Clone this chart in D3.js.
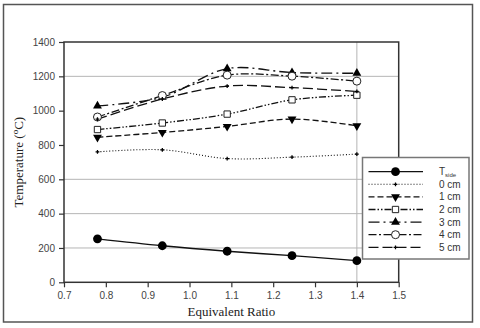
<!DOCTYPE html>
<html>
<head>
<meta charset="utf-8">
<script src="https://cdn.jsdelivr.net/npm/d3@7"></script>
<style>
  body { margin: 0; background: #fff; }
  svg { display: block; }
</style>
</head>
<body>
<svg id="chart"></svg>
<script>
const width = 480;
const height = 328;

// data
const ratios = [0.78, 0.935, 1.09, 1.245, 1.40];
const tSide = [253, 213, 181, 155, 126];
const cm0 = [760, 772, 721, 729, 747];
const cm1 = [845, 873, 908, 951, 912];
const cm2 = [890, 928, 980, 1063, 1090];
const cm3 = [1028, 1078, 1245, 1222, 1218];
const cm4 = [963, 1088, 1207, 1201, 1172];
const cm5 = [950, 1068, 1143, 1134, 1112];

const yTicks = [0, 200, 400, 600, 800, 1000, 1200, 1400];
const xTicks = [0.7, 0.8, 0.9, 1.0, 1.1, 1.2, 1.3, 1.4, 1.5];
const yGrid = [200, 400, 600, 1200];
const xGrid = [1.4];

const series = [
  { name: "T", sub: "side", values: tSide, dash: null, marker: "dot" },
  { name: "0 cm", values: cm0, dash: "1,2", marker: "plus" },
  { name: "1 cm", values: cm1, dash: "6,3", marker: "down" },
  { name: "2 cm", values: cm2, dash: "7,2,1.5,2,1.5,2", marker: "square" },
  { name: "3 cm", values: cm3, dash: "11,4,2,4", marker: "up" },
  { name: "4 cm", values: cm4, dash: "8,2.5,2,2.5", marker: "circle" },
  { name: "5 cm", values: cm5, dash: "10,4", marker: "plus" }
];

const svg = d3.select("#chart")
  .attr("width", width)
  .attr("height", height)
  .attr("viewBox", [0, 0, width, height]);

// outer frame
svg.append("rect")
  .attr("x", 3.5).attr("y", 4.5)
  .attr("width", 469).attr("height", 317.5)
  .attr("fill", "#fff")
  .attr("stroke", "#555")
  .attr("stroke-width", 1.5);

const plotL = 64, plotR = 398.7, plotT = 42, plotB = 282.3;

const x = d3.scaleLinear().domain([0.7, 1.5]).range([plotL, plotR]);
const y = d3.scaleLinear().domain([0, 1400]).range([plotB, plotT]);

// grid
svg.append("g")
  .selectAll("line")
  .data(yGrid)
  .enter().append("line")
  .attr("x1", plotL).attr("x2", plotR)
  .attr("y1", d => y(d)).attr("y2", d => y(d))
  .attr("stroke", "#b5b5b5")
  .attr("stroke-width", 1);

svg.append("g")
  .selectAll("line")
  .data(xGrid)
  .enter().append("line")
  .attr("x1", d => x(d)).attr("x2", d => x(d))
  .attr("y1", plotT).attr("y2", plotB)
  .attr("stroke", "#b5b5b5")
  .attr("stroke-width", 1);

// axes
const yAxis = svg.append("g")
  .attr("transform", `translate(${plotL},0)`)
  .call(d3.axisLeft(y).tickValues(yTicks).tickSize(5).tickPadding(4).tickFormat(d3.format("d")));
const xAxis = svg.append("g")
  .attr("transform", `translate(0,${plotB})`)
  .call(d3.axisBottom(x).tickValues(xTicks).tickSize(5).tickPadding(5).tickFormat(d3.format(".1f")));

[yAxis, xAxis].forEach(g => {
  g.select(".domain").remove();
  g.selectAll("line").attr("stroke", "#333").attr("stroke-width", 1.2);
  g.selectAll("text")
    .attr("font-family", "'Liberation Sans', Arial, sans-serif")
    .attr("font-size", 10)
    .attr("fill", "#444");
});

// plot frame
svg.append("rect")
  .attr("x", plotL).attr("y", plotT)
  .attr("width", plotR - plotL).attr("height", plotB - plotT)
  .attr("fill", "none")
  .attr("stroke", "#333")
  .attr("stroke-width", 1.5);

// lines
const line = d3.line()
  .x((d, i) => x(ratios[i]))
  .y(d => y(d))
  .curve(d3.curveCatmullRom.alpha(0.5));

svg.append("g")
  .selectAll("path")
  .data(series)
  .enter().append("path")
  .attr("d", d => line(d.values))
  .attr("fill", "none")
  .attr("stroke", "#111")
  .attr("stroke-width", d => d.name === "0 cm" ? 1.1 : 1.3)
  .attr("stroke-dasharray", d => d.dash);

function drawMarker(g, type) {
  if (type === "dot") {
    g.append("circle").attr("r", 4.4).attr("fill", "#000");
  } else if (type === "circle") {
    g.append("circle").attr("r", 4).attr("fill", "#fff").attr("stroke", "#222").attr("stroke-width", 1);
  } else if (type === "square") {
    g.append("path").attr("d", d3.symbol(d3.symbolSquare, 40)())
      .attr("fill", "#fff").attr("stroke", "#222").attr("stroke-width", 1);
  } else if (type === "up") {
    g.append("path").attr("d", d3.symbol(d3.symbolTriangle, 34)())
      .attr("fill", "#000");
  } else if (type === "down") {
    g.append("path").attr("d", d3.symbol(d3.symbolTriangle, 34)())
      .attr("transform", "rotate(180)")
      .attr("fill", "#000");
  } else if (type === "plus") {
    g.append("path").attr("d", d3.symbol(d3.symbolCross, 8)())
      .attr("fill", "#000");
  }
}

// markers
series.forEach(s => {
  s.values.forEach((v, i) => {
    const g = svg.append("g").attr("transform", `translate(${x(ratios[i])},${y(v)})`);
    drawMarker(g, s.marker);
  });
});

// axis titles
svg.append("text")
  .attr("x", (plotL + plotR) / 2)
  .attr("y", 316)
  .attr("text-anchor", "middle")
  .attr("font-family", "'Liberation Serif', 'Times New Roman', serif")
  .attr("font-size", 13)
  .attr("fill", "#222")
  .text("Equivalent Ratio");

const yt = svg.append("text")
  .attr("transform", `translate(23,${(plotT + plotB) / 2}) rotate(-90)`)
  .attr("text-anchor", "middle")
  .attr("font-family", "'Liberation Serif', 'Times New Roman', serif")
  .attr("font-size", 13)
  .attr("fill", "#222");
yt.append("tspan").text("Temperature (");
yt.append("tspan").attr("baseline-shift", "super").attr("font-size", 9).text("o");
yt.append("tspan").text("C)");

// legend
const lg = svg.append("g");
lg.append("rect")
  .attr("x", 362.5).attr("y", 157.5)
  .attr("width", 106.5).attr("height", 101.5)
  .attr("fill", "#fff")
  .attr("stroke", "#777")
  .attr("stroke-width", 1.5);

const rowY = d3.scaleLinear().domain([0, 6]).range([171.7, 247.3]);

series.forEach((s, i) => {
  const ry = rowY(i);
  lg.append("line")
    .attr("x1", 368.5).attr("x2", 423)
    .attr("y1", ry).attr("y2", ry)
    .attr("stroke", "#111")
    .attr("stroke-width", s.name === "0 cm" ? 1.1 : 1.3)
    .attr("stroke-dasharray", s.dash);
  const g = lg.append("g").attr("transform", `translate(395.5,${ry})`);
  drawMarker(g, s.marker);
  const t = lg.append("text")
    .attr("x", 439)
    .attr("y", ry + 3.5)
    .attr("font-family", "'Liberation Sans', Arial, sans-serif")
    .attr("font-size", 10)
    .attr("fill", "#333");
  t.append("tspan").text(s.name);
  if (s.sub) {
    t.append("tspan").attr("font-size", 6).attr("dy", 2).text(s.sub);
  }
});
</script>
</body>
</html>
